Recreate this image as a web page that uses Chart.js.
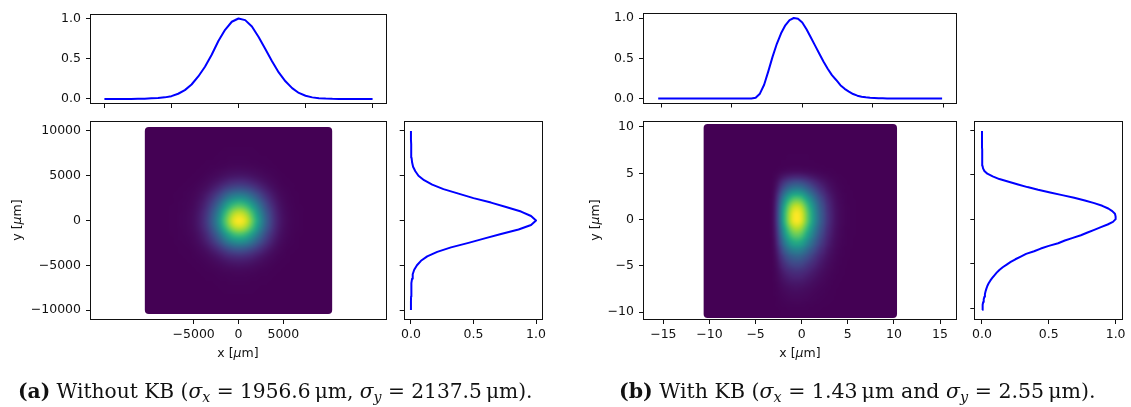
<!DOCTYPE html>
<html>
<head>
<meta charset="utf-8">
<script src="https://cdn.jsdelivr.net/npm/chart.js@4.4.0/dist/chart.umd.min.js"></script>
<style>
  html, body { margin: 0; padding: 0; background: #fff; }
  #fig { position: relative; width: 1131px; height: 407px; overflow: hidden; }
  #fig canvas { position: absolute; left: 0; top: 0; }
  .axt { position: absolute; font-family: 'DejaVu Sans'; font-size: 12.5px; color: #111;
         white-space: nowrap; width: 80px; height: 16px; line-height: 16px; text-align: center; }
  .axt.rot { transform: rotate(-90deg); }
  .axt i { font-style: italic; }
  .cap { position: absolute; font-family: 'DejaVu Serif'; font-size: 20px; color: #111;
         white-space: nowrap; line-height: 1; }
  .cap sub { font-size: 70%; vertical-align: -0.25em; line-height: 0; }
</style>
</head>
<body>
<div id="fig"></div>
<script>
// ---------------- data ----------------
// (a) without KB: sample positions in µm and normalised beam profiles
const posA = [-10000, -9500, -9000, -8500, -8000, -7500, -7000, -6500, -6000, -5500,
              -5000, -4500, -4000, -3500, -3000, -2500, -2000, -1500, -1000, -500,
              0, 500, 1000, 1500, 2000, 2500, 3000, 3500, 4000, 4500,
              5000, 5500, 6000, 6500, 7000, 7500, 8000, 8500, 9000, 9500, 10000];
const profileAx = [0, 0, 0, 0, 0.001, 0.002, 0.004, 0.008, 0.012, 0.02,
                   0.035, 0.065, 0.11, 0.18, 0.28, 0.40, 0.55, 0.72, 0.86, 0.96,
                   1.0, 0.98, 0.90, 0.77, 0.62, 0.47, 0.33, 0.22, 0.135, 0.075,
                   0.04, 0.02, 0.01, 0.005, 0.002, 0.001, 0, 0, 0, 0, 0];
const profileAy = [0, 0, 0, 0.001, 0.002, 0.003, 0.005, 0.009, 0.014, 0.026,
                   0.048, 0.08, 0.13, 0.21, 0.32, 0.46, 0.59, 0.72, 0.86, 0.96,
                   1.0, 0.96, 0.88, 0.76, 0.64, 0.50, 0.38, 0.26, 0.17, 0.105,
                   0.06, 0.035, 0.017, 0.009, 0.005, 0.003, 0.002, 0.001, 0, 0, 0];

// (b) with KB: sample positions in µm and normalised beam profiles
const posB = [-10.2, -9.9, -9.6, -9.3, -9.0, -8.7, -8.4, -8.1, -7.8, -7.5,
              -7.2, -6.9, -6.6, -6.3, -6.0, -5.7, -5.4, -5.1, -4.8, -4.5,
              -4.2, -3.9, -3.6, -3.3, -3.0, -2.7, -2.4, -2.1, -1.8, -1.5,
              -1.2, -0.9, -0.6, -0.3, 0.0, 0.3, 0.6, 0.9, 1.2, 1.5,
              1.8, 2.1, 2.4, 2.7, 3.0, 3.3, 3.6, 3.9, 4.2, 4.5,
              4.8, 5.1, 5.4, 5.7, 6.0, 6.3, 6.6, 6.9, 7.2, 7.5,
              7.8, 8.1, 8.4, 8.7, 9.0, 9.3, 9.6, 9.9];
const profileBx = [0, 0, 0, 0, 0, 0, 0, 0, 0, 0,
                   0, 0, 0, 0, 0, 0, 0, 0, 0, 0,
                   0, 0, 0.001, 0.01, 0.06, 0.17, 0.34, 0.52, 0.68, 0.81,
                   0.91, 0.975, 1.0, 0.99, 0.945, 0.86, 0.76, 0.66, 0.56, 0.46,
                   0.37, 0.29, 0.23, 0.165, 0.12, 0.085, 0.055, 0.035, 0.022, 0.014,
                   0.008, 0.005, 0.003, 0.002, 0.001, 0, 0, 0, 0, 0,
                   0, 0, 0, 0, 0, 0, 0, 0];
const profileBy = [0.003, 0.004, 0.006, 0.009, 0.013, 0.018, 0.022, 0.027, 0.033, 0.04,
                   0.05, 0.062, 0.077, 0.093, 0.11, 0.13, 0.155, 0.185, 0.215, 0.25,
                   0.29, 0.33, 0.39, 0.44, 0.50, 0.57, 0.62, 0.68, 0.74, 0.79,
                   0.84, 0.89, 0.94, 0.98, 1.0, 1.0, 0.995, 0.975, 0.945, 0.90,
                   0.84, 0.77, 0.69, 0.60, 0.51, 0.42, 0.34, 0.27, 0.20, 0.13,
                   0.08, 0.04, 0.018, 0.008, 0.004, 0.003, 0.002, 0.002, 0.001, 0.001,
                   0.001, 0, 0, 0, 0, 0, 0, 0];

// tick positions
const ticksPosA = [-10000, -5000, 0, 5000, 10000];
const ticksMapXA = [-5000, 0, 5000];
const ticksPosB = [-10, -5, 0, 5, 10];
const ticksMapXB = [-15, -10, -5, 0, 5, 10, 15];
const ticksUnit = [0, 0.5, 1];

// ---------------- helpers ----------------
const W = 1131, H = 407;
const AXIS_W = 70, AXIS_H = 40;   // fixed room reserved for the y / x axes
const INK = '#111';

Chart.defaults.font.family = "'DejaVu Sans'";
Chart.defaults.font.size = 12.5;
Chart.defaults.color = INK;

const VIRIDIS = ['#440154', '#482475', '#414487', '#355f8d', '#2a788e', '#21918c',
                 '#22a884', '#44bf70', '#7ad151', '#bddf26', '#fde725']
  .map(h => [1, 3, 5].map(k => parseInt(h.slice(k, k + 2), 16)));
function viridis(t) {
  t = Math.max(0, Math.min(1, t));
  const f = t * (VIRIDIS.length - 1);
  const i = Math.min(VIRIDIS.length - 2, Math.floor(f));
  const u = f - i, a = VIRIDIS[i], b = VIRIDIS[i + 1];
  return a.map((c, k) => Math.round(c + (b[k] - c) * u));
}
const css = c => 'rgb(' + c.join(',') + ')';

const fmtInt = v => (v < 0 ? '\u2212' : '') + Math.abs(v);
const fmtUnit = v => v.toFixed(1);
const noLabel = () => '';

// axes box drawn on top of the data
const framePlugin = {
  id: 'frame',
  afterDatasetsDraw(chart) {
    const a = chart.chartArea, ctx = chart.ctx;
    const l = Math.round(a.left), t = Math.round(a.top);
    const r = Math.round(a.right), b = Math.round(a.bottom);
    ctx.save();
    ctx.strokeStyle = INK;
    ctx.lineWidth = 1;
    ctx.strokeRect(l - 0.5, t - 0.5, r - l + 1, b - t + 1);
    ctx.restore();
  }
};

// intensity map: one sample per (x, y) position, value = product of the two profiles,
// rendered as a small image and stretched over the data extent with smoothing
const heatPlugin = {
  id: 'heat',
  beforeDatasetsDraw(chart, args, o) {
    if (!o || !o.xs) return;
    const sx = chart.scales.x, sy = chart.scales.y, ctx = chart.ctx;
    const nx = o.xs.length, ny = o.ys.length;
    let vmax = 0;
    o.px.forEach(a => o.py.forEach(b => { vmax = Math.max(vmax, a * b); }));

    const off = document.createElement('canvas');
    off.width = nx; off.height = ny;
    const octx = off.getContext('2d');
    const img = octx.createImageData(nx, ny);
    for (let j = 0; j < ny; j++) {
      const row = ny - 1 - j;            // image rows run top -> bottom
      for (let i = 0; i < nx; i++) {
        const c = viridis(o.px[i] * o.py[j] / vmax);
        const k = (row * nx + i) * 4;
        img.data[k] = c[0]; img.data[k + 1] = c[1]; img.data[k + 2] = c[2]; img.data[k + 3] = 255;
      }
    }
    octx.putImageData(img, 0, 0);

    const hx = (o.xs[1] - o.xs[0]) / 2, hy = (o.ys[1] - o.ys[0]) / 2;
    const ix0 = sx.getPixelForValue(o.xs[0] - hx), ix1 = sx.getPixelForValue(o.xs[nx - 1] + hx);
    const iy0 = sy.getPixelForValue(o.ys[ny - 1] + hy), iy1 = sy.getPixelForValue(o.ys[0] - hy);

    ctx.save();
    // marker footprint (round markers leave rounded corners)
    const x0 = sx.getPixelForValue(o.xs[0]) - o.pad;
    const x1 = sx.getPixelForValue(o.xs[nx - 1]) + o.pad;
    const y0 = sy.getPixelForValue(o.ys[ny - 1]) - o.pad;
    const y1 = sy.getPixelForValue(o.ys[0]) + o.pad;
    ctx.fillStyle = css(viridis(0));
    ctx.beginPath();
    ctx.roundRect(x0, y0, x1 - x0, y1 - y0, o.pad);
    ctx.fill();
    ctx.imageSmoothingEnabled = true;
    ctx.imageSmoothingQuality = 'high';
    ctx.drawImage(off, ix0, iy0, ix1 - ix0, iy1 - iy0);
    ctx.restore();
  }
};

function axis(min, max, ticks, fmt, horizontal) {
  return {
    type: 'linear', min, max, bounds: 'data',
    afterFit: s => { if (horizontal) s.height = AXIS_H; else s.width = AXIS_W; },
    afterBuildTicks: s => { s.ticks = ticks.map(v => ({ value: v })); },
    ticks: { callback: fmt, padding: horizontal ? 3 : 5, autoSkip: false, maxRotation: 0, color: INK },
    grid: { drawOnChartArea: false, drawTicks: true, tickLength: 5, color: INK, lineWidth: 1 },
    border: { display: false }
  };
}

function panel(rect, xs, ys, datasets, heat) {
  const cv = document.createElement('canvas');
  cv.width = W; cv.height = H;
  document.getElementById('fig').appendChild(cv);
  return new Chart(cv, {
    type: 'scatter',
    data: { datasets },
    options: {
      responsive: false, animation: false, events: [],
      layout: { padding: { left: rect.l - AXIS_W, top: rect.t, right: W - rect.r, bottom: H - rect.b - AXIS_H } },
      plugins: { legend: { display: false }, tooltip: { enabled: false }, heat: heat || {} },
      scales: { x: axis(xs[0], xs[1], xs[2], xs[3], true), y: axis(ys[0], ys[1], ys[2], ys[3], false) }
    },
    plugins: [heatPlugin, framePlugin]
  });
}

function line(pos, prof, vertical) {
  return {
    data: pos.map((p, i) => vertical ? { x: prof[i], y: p } : { x: p, y: prof[i] }),
    showLine: true, pointRadius: 0, borderColor: '#0000ff', borderWidth: 2,
    borderJoinStyle: 'round', fill: false
  };
}

// ---------------- (a) without KB ----------------
panel({ l: 91, t: 14.5, r: 386, b: 103 },
      [-11000, 11000, ticksPosA, noLabel], [-0.05, 1.05, ticksUnit, fmtUnit],
      [line(posA, profileAx, false)]);
panel({ l: 91, t: 122, r: 386, b: 319 },
      [-16450, 16450, ticksMapXA, fmtInt], [-11000, 11000, ticksPosA, fmtInt],
      [], { xs: posA, ys: posA, px: profileAx, py: profileAy, pad: 4 });
panel({ l: 404.7, t: 122, r: 542.3, b: 319 },
      [-0.05, 1.05, ticksUnit, fmtUnit], [-11000, 11000, ticksPosA, noLabel],
      [line(posA, profileAy, true)]);

// ---------------- (b) with KB ----------------
panel({ l: 644, t: 14, r: 956.3, b: 102.5 },
      [-11.205, 10.905, ticksPosB, noLabel], [-0.05, 1.05, ticksUnit, fmtUnit],
      [line(posB, profileBx, false)]);
panel({ l: 644, t: 122, r: 956.3, b: 319 },
      [-17.1, 16.76, ticksMapXB, fmtInt], [-10.75, 10.54, ticksPosB, fmtInt],
      [], { xs: posB, ys: posB, px: profileBx, py: profileBy, pad: 4 });
panel({ l: 975.3, t: 122, r: 1122.3, b: 319 },
      [-0.05, 1.05, ticksUnit, fmtUnit], [-11.205, 10.905, ticksPosB, noLabel],
      [line(posB, profileBy, true)]);

// ---------------- axis titles and captions ----------------
const fig = document.getElementById('fig');
function addText(cls, html, x, y) {
  const d = document.createElement('div');
  d.className = cls; d.innerHTML = html;
  d.style.left = x + 'px'; d.style.top = y + 'px';
  fig.appendChild(d);
  return d;
}
// axis titles: 80x16 boxes centred on whole pixels
const axisTitle = (html, cx, cy, rotated) =>
  addText(rotated ? 'axt rot' : 'axt', html, cx - 40, cy - 8);
axisTitle('x [<i>\u03bc</i>m]', 238, 353, false);
axisTitle('y [<i>\u03bc</i>m]', 17, 220, true);
axisTitle('x [<i>\u03bc</i>m]', 800, 353, false);
axisTitle('y [<i>\u03bc</i>m]', 595, 220, true);

// sub-figure captions, each sized to span its own column
function caption(html, left, right, baseline) {
  const d = addText('cap', html, left, 0);
  const size = 20 * (right - left) / d.getBoundingClientRect().width;
  d.style.fontSize = size + 'px';
  d.style.top = (baseline - 0.93 * size + (1.164 * size - size) / 2) + 'px';
}
caption('<b>(a)</b> Without KB (<i>\u03c3<sub>x</sub></i> = 1956.6\u2009\u03bcm, <i>\u03c3<sub>y</sub></i> = 2137.5\u2009\u03bcm).', 18, 533, 398.5);
caption('<b>(b)</b> With KB (<i>\u03c3<sub>x</sub></i> = 1.43\u2009\u03bcm and <i>\u03c3<sub>y</sub></i> = 2.55\u2009\u03bcm).', 619, 1096, 398.5);
</script>
</body>
</html>
